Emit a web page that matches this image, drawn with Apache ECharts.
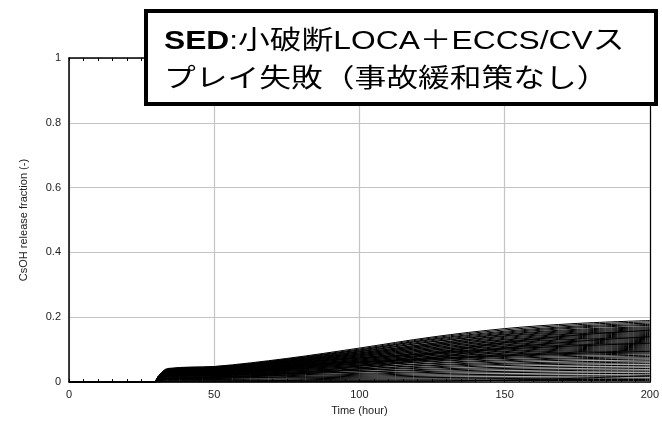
<!DOCTYPE html>
<html>
<head>
<meta charset="utf-8">
<script src="https://cdn.jsdelivr.net/npm/echarts@6/dist/echarts.min.js"></script>
<style>
  html, body { margin: 0; padding: 0; background: #fff; }
  #chart { width: 662px; height: 421px; }
</style>
</head>
<body>
<div id="chart"></div>
<script>
// Sample times (hours) shared by every run
const hours = [0, 29, 31, 34, 50, 75, 100, 125, 150, 175, 200];

// CsOH release fraction of each uncertainty run, grouped by final level
const highRuns = [
  [0, 0, 0.020, 0.040, 0.048, 0.073, 0.105, 0.139, 0.165, 0.181, 0.190],
  [0, 0, 0.019, 0.038, 0.045, 0.071, 0.102, 0.136, 0.161, 0.177, 0.186],
  [0, 0, 0.018, 0.037, 0.044, 0.069, 0.099, 0.133, 0.157, 0.173, 0.182],
  [0, 0, 0.020, 0.039, 0.046, 0.070, 0.099, 0.131, 0.154, 0.170, 0.178],
  [0, 0, 0.018, 0.036, 0.043, 0.067, 0.096, 0.128, 0.151, 0.167, 0.175],
  [0, 0, 0.017, 0.035, 0.042, 0.065, 0.093, 0.125, 0.148, 0.163, 0.171],
  [0, 0, 0.019, 0.038, 0.044, 0.067, 0.094, 0.124, 0.146, 0.160, 0.168],
  [0, 0, 0.017, 0.034, 0.041, 0.063, 0.090, 0.120, 0.143, 0.157, 0.165],
  [0, 0, 0.018, 0.036, 0.042, 0.064, 0.090, 0.119, 0.141, 0.154, 0.162],
  [0, 0, 0.016, 0.033, 0.039, 0.061, 0.087, 0.116, 0.138, 0.151, 0.159],
  [0, 0, 0.017, 0.035, 0.041, 0.062, 0.087, 0.115, 0.135, 0.149, 0.156],
  [0, 0, 0.016, 0.032, 0.038, 0.059, 0.084, 0.112, 0.132, 0.146, 0.153],
  [0, 0, 0.006, 0.012, 0.015, 0.026, 0.050, 0.088, 0.122, 0.145, 0.160],
  [0, 0, 0.005, 0.010, 0.013, 0.022, 0.042, 0.075, 0.105, 0.126, 0.140]
];

const midRuns = [
  [0, 0, 0.017, 0.034, 0.040, 0.060, 0.084, 0.111, 0.130, 0.143, 0.150],
  [0, 0, 0.015, 0.031, 0.037, 0.057, 0.081, 0.108, 0.127, 0.140, 0.147],
  [0, 0, 0.016, 0.033, 0.039, 0.057, 0.081, 0.106, 0.125, 0.137, 0.144],
  [0, 0, 0.015, 0.030, 0.036, 0.054, 0.078, 0.103, 0.122, 0.134, 0.141],
  [0, 0, 0.016, 0.032, 0.037, 0.055, 0.078, 0.102, 0.120, 0.132, 0.138],
  [0, 0, 0.014, 0.029, 0.034, 0.052, 0.075, 0.099, 0.117, 0.129, 0.135],
  [0, 0, 0.015, 0.031, 0.036, 0.053, 0.074, 0.098, 0.115, 0.126, 0.132],
  [0, 0, 0.014, 0.028, 0.033, 0.050, 0.071, 0.095, 0.112, 0.123, 0.129],
  [0, 0, 0.015, 0.030, 0.035, 0.051, 0.071, 0.093, 0.110, 0.120, 0.126],
  [0, 0, 0.013, 0.027, 0.032, 0.048, 0.068, 0.090, 0.107, 0.117, 0.123],
  [0, 0, 0.014, 0.029, 0.034, 0.049, 0.068, 0.089, 0.105, 0.115, 0.120],
  [0, 0, 0.013, 0.026, 0.031, 0.046, 0.065, 0.086, 0.102, 0.112, 0.117],
  [0, 0, 0.014, 0.028, 0.032, 0.047, 0.065, 0.085, 0.099, 0.109, 0.114],
  [0, 0, 0.012, 0.025, 0.029, 0.044, 0.062, 0.082, 0.096, 0.106, 0.111],
  [0, 0, 0.013, 0.027, 0.031, 0.045, 0.062, 0.080, 0.094, 0.103, 0.108],
  [0, 0, 0.012, 0.024, 0.028, 0.042, 0.059, 0.077, 0.091, 0.100, 0.105],
  [0, 0, 0.021, 0.042, 0.048, 0.060, 0.074, 0.089, 0.102, 0.112, 0.120],
  [0, 0, 0.020, 0.040, 0.044, 0.052, 0.062, 0.072, 0.082, 0.089, 0.095]
];

const lowRuns = [
  [0, 0, 0.013, 0.026, 0.030, 0.043, 0.059, 0.076, 0.089, 0.097, 0.102],
  [0, 0, 0.011, 0.023, 0.027, 0.040, 0.056, 0.073, 0.086, 0.094, 0.099],
  [0, 0, 0.012, 0.025, 0.029, 0.041, 0.056, 0.072, 0.084, 0.092, 0.096],
  [0, 0, 0.011, 0.022, 0.026, 0.038, 0.053, 0.069, 0.081, 0.089, 0.093],
  [0, 0, 0.012, 0.024, 0.027, 0.039, 0.052, 0.068, 0.079, 0.086, 0.090],
  [0, 0, 0.010, 0.021, 0.024, 0.036, 0.049, 0.065, 0.076, 0.083, 0.087],
  [0, 0, 0.011, 0.023, 0.026, 0.036, 0.049, 0.063, 0.073, 0.079, 0.083],
  [0, 0, 0.010, 0.020, 0.023, 0.033, 0.045, 0.059, 0.069, 0.075, 0.079],
  [0, 0, 0.011, 0.022, 0.025, 0.034, 0.045, 0.057, 0.066, 0.072, 0.075],
  [0, 0, 0.009, 0.019, 0.022, 0.030, 0.041, 0.053, 0.062, 0.068, 0.071],
  [0, 0, 0.010, 0.021, 0.023, 0.031, 0.040, 0.051, 0.058, 0.063, 0.066],
  [0, 0, 0.009, 0.018, 0.020, 0.028, 0.037, 0.047, 0.055, 0.059, 0.062],
  [0, 0, 0.010, 0.020, 0.022, 0.028, 0.036, 0.044, 0.051, 0.055, 0.057],
  [0, 0, 0.008, 0.017, 0.019, 0.025, 0.032, 0.040, 0.046, 0.050, 0.052]
];

const floorRuns = [
  [0, 0, 0.009, 0.019, 0.020, 0.025, 0.031, 0.037, 0.042, 0.045, 0.047],
  [0, 0, 0.008, 0.016, 0.017, 0.022, 0.027, 0.033, 0.038, 0.040, 0.042],
  [0, 0, 0.007, 0.015, 0.016, 0.020, 0.024, 0.030, 0.033, 0.036, 0.037],
  [0, 0, 0.006, 0.013, 0.014, 0.017, 0.021, 0.026, 0.029, 0.031, 0.032],
  [0, 0, 0.006, 0.012, 0.013, 0.015, 0.018, 0.022, 0.024, 0.026, 0.027],
  [0, 0, 0.005, 0.010, 0.011, 0.013, 0.015, 0.018, 0.020, 0.021, 0.022],
  [0, 0, 0.004, 0.008, 0.008, 0.010, 0.012, 0.014, 0.015, 0.016, 0.017],
  [0, 0, 0.003, 0.006, 0.006, 0.007, 0.009, 0.010, 0.011, 0.012, 0.012],
  [0, 0, 0.002, 0.004, 0.004, 0.005, 0.006, 0.007, 0.007, 0.008, 0.008],
  [0, 0, 0.001, 0.003, 0.003, 0.003, 0.004, 0.004, 0.005, 0.005, 0.005],
  [0, 0, 0.000, 0.001, 0.001, 0.001, 0.002, 0.003, 0.006, 0.012, 0.020]
];

const xTicks = { min: 0, max: 200, interval: 50 };
const yTicks = { min: 0, max: 1, interval: 0.2 };

const latin = '"Liberation Sans", Arial, "Noto Sans CJK JP", sans-serif';
const runs = [].concat(highRuns, midRuns, lowRuns, floorRuns);

const series = runs.map((run, k) => ({
  type: 'line',
  name: 'run' + k,
  data: hours.map((h, i) => [h, run[i]]),
  showSymbol: false,
  symbol: 'none',
  smooth: 0.35,
  silent: true,
  lineStyle: { color: '#000', width: 1 },
  xAxisIndex: 0,
  yAxisIndex: 0
}));

const chart = echarts.init(document.getElementById('chart'), null, { renderer: 'canvas' });
chart.setOption({
  animation: false,
  backgroundColor: '#fff',
  grid: { left: 69, right: 8, top: 58, bottom: 36, containLabel: false },
  xAxis: [
    {
      type: 'value', position: 'bottom',
      min: xTicks.min, max: xTicks.max, interval: xTicks.interval,
      name: 'Time (hour)', nameLocation: 'middle', nameGap: 22,
      nameTextStyle: { fontSize: 11, color: '#222', fontFamily: latin },
      axisLine: { show: true, onZero: false, lineStyle: { color: '#000', width: 1.5 } },
      axisTick: { show: true, inside: true, length: 3, lineStyle: { color: '#000' } },
      minorTick: { show: true, splitNumber: 10, length: 3, lineStyle: { color: '#000' } },
      axisLabel: { fontSize: 11, color: '#222', margin: 7, fontFamily: latin },
      splitLine: { show: true, lineStyle: { color: '#c4c4c4', width: 1.2 } }
    },
    {
      type: 'value', position: 'top',
      min: xTicks.min, max: xTicks.max, interval: xTicks.interval,
      axisLine: { show: true, onZero: false, lineStyle: { color: '#000', width: 1.5 } },
      axisTick: { show: true, inside: true, length: 3, lineStyle: { color: '#000' } },
      minorTick: { show: true, splitNumber: 10, length: 3, lineStyle: { color: '#000' } },
      axisLabel: { show: false },
      splitLine: { show: false }
    }
  ],
  yAxis: [
    {
      type: 'value', position: 'left',
      min: yTicks.min, max: yTicks.max, interval: yTicks.interval,
      name: 'CsOH release fraction (-)', nameLocation: 'middle', nameGap: 40,
      nameTextStyle: { fontSize: 11, color: '#222', fontFamily: latin },
      axisLine: { show: true, onZero: false, lineStyle: { color: '#000', width: 1.5 } },
      axisTick: { show: false },
      axisLabel: { fontSize: 11, color: '#222', margin: 8, fontFamily: latin },
      splitLine: { show: true, lineStyle: { color: '#c4c4c4', width: 1.2 } }
    },
    {
      type: 'value', position: 'right',
      min: yTicks.min, max: yTicks.max, interval: yTicks.interval,
      axisLine: { show: true, onZero: false, lineStyle: { color: '#000', width: 1.2 } },
      axisTick: { show: false },
      axisLabel: { show: false },
      splitLine: { show: false }
    }
  ],
  series: series,
  graphic: [
    {
      type: 'rect', z: 100,
      shape: { x: 146, y: 11, width: 510, height: 93 },
      style: { fill: '#fff', stroke: '#000', lineWidth: 4 }
    },
    {
      type: 'text', z: 101,
      x: 164, y: 61, scaleX: 1.27, scaleY: 1.03,
      style: {
        text: '{b|SED}:小破断LOCA＋ECCS/CVス\nプレイ失敗（事故緩和策なし）',
        font: '25px ' + latin,
        fontSize: 25,
        fontFamily: latin,
        fill: '#000',
        lineHeight: 37,
        verticalAlign: 'middle',
        rich: {
          b: { fontWeight: 'bold', fontSize: 25, fontFamily: latin, fill: '#000', lineHeight: 37 }
        }
      }
    }
  ]
});
</script>
</body>
</html>
